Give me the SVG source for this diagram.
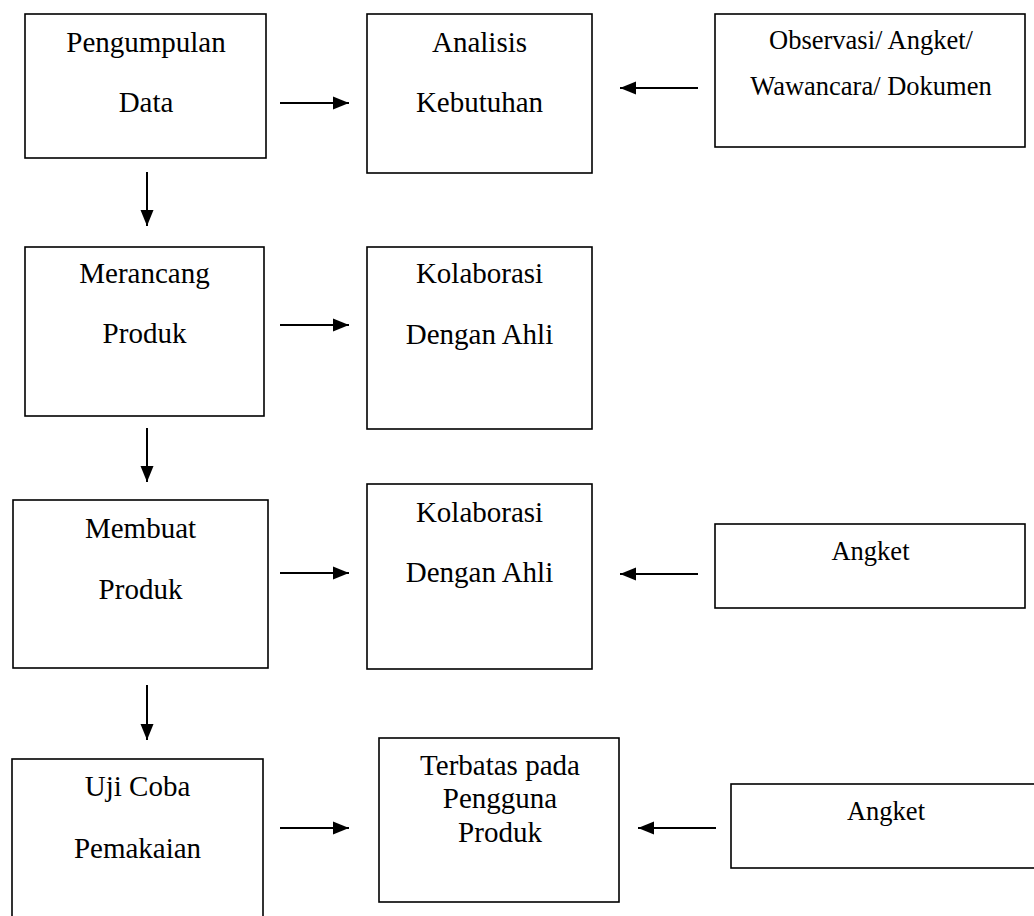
<svg xmlns="http://www.w3.org/2000/svg" width="1034" height="916" viewBox="0 0 1034 916">
  <defs>
    <marker id="ah" markerUnits="userSpaceOnUse" markerWidth="16" markerHeight="14" refX="16" refY="7" orient="auto" viewBox="0 0 16 14">
      <path d="M0,0.5 L16,7 L0,13.5 z" fill="#000"/>
    </marker>
    <style>
      rect.b { fill: #fff; stroke: #000; stroke-width: 1.6; }
      .c line { stroke: #000; stroke-width: 2; marker-end: url(#ah); }
    </style>
  </defs>
  <rect x="0" y="0" width="1034" height="916" fill="#fff"/>

  <g font-family="Liberation Serif" font-size="29" text-anchor="middle" fill="#000">
  <g id="pengumpulan">
    <rect class="b" x="25" y="14" width="241" height="144"/>
    <text x="146" y="52">Pengumpulan</text>
    <text x="146" y="112">Data</text>
  </g>
  <g id="analisis">
    <rect class="b" x="367" y="14" width="225" height="159"/>
    <text x="479.5" y="52">Analisis</text>
    <text x="479.5" y="112">Kebutuhan</text>
  </g>
  <g id="observasi">
    <rect class="b" x="715" y="14" width="310" height="133"/>
    <text font-size="26.5" x="871" y="49">Observasi/ Angket/</text>
    <text font-size="26.5" x="871" y="95">Wawancara/ Dokumen</text>
  </g>

  <g id="merancang">
    <rect class="b" x="25" y="247" width="239" height="169"/>
    <text x="144.5" y="283">Merancang</text>
    <text x="144.5" y="343">Produk</text>
  </g>
  <g id="kolaborasi1">
    <rect class="b" x="367" y="247" width="225" height="182"/>
    <text x="479.5" y="283">Kolaborasi</text>
    <text x="479.5" y="344">Dengan Ahli</text>
  </g>

  <g id="membuat">
    <rect class="b" x="13" y="500" width="255" height="168"/>
    <text x="140.5" y="538">Membuat</text>
    <text x="140.5" y="599">Produk</text>
  </g>
  <g id="kolaborasi2">
    <rect class="b" x="367" y="484" width="225" height="185"/>
    <text x="479.5" y="522">Kolaborasi</text>
    <text x="479.5" y="582">Dengan Ahli</text>
  </g>
  <g id="angket1">
    <rect class="b" x="715" y="524" width="310" height="84"/>
    <text font-size="26.5" x="870.5" y="560">Angket</text>
  </g>

  <g id="ujicoba">
    <rect class="b" x="12" y="759" width="251" height="170"/>
    <text x="137.5" y="796">Uji Coba</text>
    <text x="137.5" y="858">Pemakaian</text>
  </g>
  <g id="terbatas">
    <rect class="b" x="379" y="738" width="240" height="164"/>
    <text x="500" y="775">Terbatas pada</text>
    <text x="500" y="808">Pengguna</text>
    <text x="500" y="842">Produk</text>
  </g>
  <g id="angket2">
    <rect class="b" x="731" y="784" width="310" height="84"/>
    <text font-size="26.5" x="886" y="820">Angket</text>
  </g>
  </g>

  <g id="connectors" class="c">
    <line x1="280" y1="103" x2="349" y2="103"/>
    <line x1="698" y1="88" x2="620" y2="88"/>
    <line x1="147" y1="172" x2="147" y2="226"/>
    <line x1="280" y1="325" x2="349" y2="325"/>
    <line x1="147" y1="428" x2="147" y2="482"/>
    <line x1="280" y1="573" x2="349" y2="573"/>
    <line x1="698" y1="574" x2="620" y2="574"/>
    <line x1="147" y1="685" x2="147" y2="740"/>
    <line x1="280" y1="828" x2="349" y2="828"/>
    <line x1="716" y1="828" x2="638" y2="828"/>
  </g>
</svg>
